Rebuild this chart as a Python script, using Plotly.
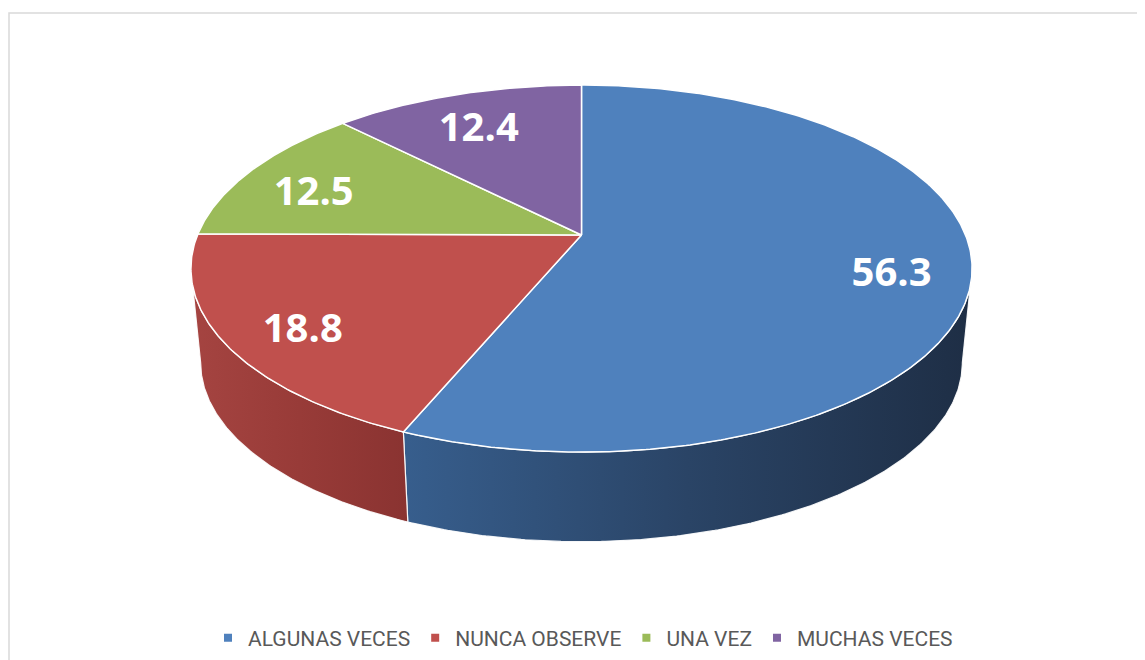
import numpy as np
import plotly.graph_objects as go

# ---- data ----
categories = ["ALGUNAS VECES", "NUNCA OBSERVE", "UNA VEZ", "MUCHAS VECES"]
values = [56.3, 18.8, 12.5, 12.4]
top_colors = ["#4F81BD", "#C0504D", "#9BBB59", "#8064A2"]
side_colors = [["#375E8D", "#2A4466", "#1E2E45"],
               ["#A54441", "#983B38", "#8A3331"],
               ["#7E9A45", "#6E873B", "#5F7532"],
               ["#654E83", "#584473", "#4B3A62"]]

# ---- geometry (screen pixel space) ----
W, H = 1145, 660
OFF = 8            # page body margin
cx, cy = 581.5, 235.0
rx, ry = 384.0, 177.4
k = 0.183          # perspective strength
D = 95.0           # depth of the pie
f = 0.975          # bottom face shrink
label_r = 0.8
label_dy = 12


def proj(theta_deg, r=1.0):
    t = np.radians(theta_deg)
    u, v = np.sin(t) * r, np.cos(t) * r
    s = 1.0 / (1.0 + k * v)
    return cx + rx * u * s, cy - ry * v * s


def bottom(x, y):
    return cx + (x - cx) * f, cy + D + (y - cy) * f


total = sum(values)
angles = np.cumsum([0] + [v / total * 360 for v in values])

fig = go.Figure()

# sides (visible front arc)
vis_a = np.degrees(np.arccos(-k))
vis_b = 360 - vis_a
for i in range(len(values)):
    a, b = max(angles[i], vis_a), min(angles[i + 1], vis_b)
    if b <= a:
        continue
    th = np.linspace(a, b, max(int((b - a) * 2), 2))
    xt, yt = proj(th)
    xb, yb = bottom(xt, yt)
    xs = np.concatenate([xt, xb[::-1], xt[:1]])
    ys = np.concatenate([yt, yb[::-1], yt[:1]])
    cs = side_colors[i]
    fig.add_trace(go.Scatter(
        x=xs, y=ys, mode="lines", fill="toself",
        line=dict(color="rgba(255,255,255,0.9)", width=1.2),
        fillgradient=dict(type="horizontal",
                          colorscale=[[0, cs[0]], [0.5, cs[1]], [1, cs[2]]]),
        showlegend=False, hoverinfo="skip"))

# top faces
for i in range(len(values)):
    th = np.linspace(angles[i], angles[i + 1], max(int((angles[i + 1] - angles[i]) * 2), 2))
    xt, yt = proj(th)
    xs = np.concatenate([[cx], xt, [cx]])
    ys = np.concatenate([[cy], yt, [cy]])
    fig.add_trace(go.Scatter(
        x=xs, y=ys, mode="lines", fill="toself", fillcolor=top_colors[i],
        line=dict(color="white", width=1.5),
        showlegend=False, hoverinfo="skip"))

# labels
mids = (angles[:-1] + angles[1:]) / 2
lx, ly = proj(mids, label_r)
fig.add_trace(go.Scatter(
    x=lx, y=ly + label_dy, mode="text", text=[f"{v:.1f}" for v in values],
    textfont=dict(family="Open Sans", size=40, color="white", weight="bold"),
    showlegend=False, hoverinfo="skip"))

# legend entries
for i, c in enumerate(categories):
    fig.add_trace(go.Scatter(
        x=[None], y=[None], mode="markers", name=c,
        marker=dict(symbol="square", size=8, color=top_colors[i])))

fig.add_shape(type="rect", xref="x", yref="y", x0=9, y0=13, x1=1160, y1=680,
              line=dict(color="#D9D9D9", width=1.5), layer="below")

fig.update_layout(
    width=W, height=H,
    margin=dict(l=0, r=0, t=0, b=0),
    paper_bgcolor="white", plot_bgcolor="white",
    xaxis=dict(range=[OFF, W + OFF], visible=False, fixedrange=True),
    yaxis=dict(range=[H + OFF, OFF], visible=False, fixedrange=True),
    legend=dict(orientation="h", x=(583 - OFF) / W, xanchor="center",
                y=1 - (638 - OFF) / H, yanchor="middle",
                font=dict(family="Roboto", size=21, color="#595959"),
                itemwidth=30, bgcolor="rgba(0,0,0,0)"),
    showlegend=True,
)

fig.write_html("out.html")
